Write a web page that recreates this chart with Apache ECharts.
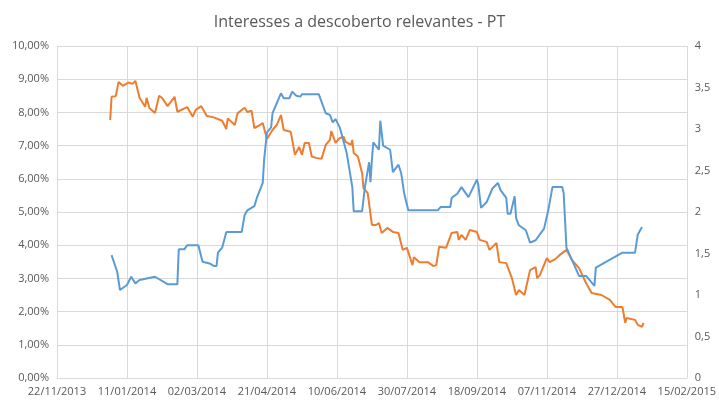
<!DOCTYPE html>
<html><head><meta charset="utf-8">
<script src="https://cdn.jsdelivr.net/npm/echarts@6/dist/echarts.min.js"></script>
<style>html,body{margin:0;padding:0;background:#fff}#c{width:719px;height:405px}</style>
</head><body><div id="c"></div>
<script>
const title = 'Interesses a descoberto relevantes - PT';
const xTickStart = '2013-11-22', xTickEnd = '2015-02-15', xTickDays = 50;
const orangeDates = ['2013-12-30','2013-12-31','2014-01-03','2014-01-05','2014-01-08','2014-01-12','2014-01-15','2014-01-17','2014-01-20','2014-01-24','2014-01-25','2014-01-27','2014-01-31','2014-02-03','2014-02-05','2014-02-09','2014-02-14','2014-02-16','2014-02-23','2014-02-27','2014-03-01','2014-03-05','2014-03-09','2014-03-14','2014-03-20','2014-03-23','2014-03-24','2014-03-29','2014-03-31','2014-04-05','2014-04-07','2014-04-10','2014-04-12','2014-04-16','2014-04-18','2014-04-21','2014-04-25','2014-04-28','2014-05-01','2014-05-03','2014-05-08','2014-05-11','2014-05-14','2014-05-16','2014-05-18','2014-05-21','2014-05-23','2014-05-26','2014-05-27','2014-05-30','2014-06-02','2014-06-05','2014-06-06','2014-06-09','2014-06-12','2014-06-15','2014-06-16','2014-06-20','2014-06-21','2014-06-22','2014-06-25','2014-06-28','2014-06-29','2014-07-02','2014-07-05','2014-07-08','2014-07-10','2014-07-12','2014-07-16','2014-07-20','2014-07-24','2014-07-27','2014-07-30','2014-08-03','2014-08-04','2014-08-08','2014-08-14','2014-08-18','2014-08-20','2014-08-22','2014-08-27','2014-08-31','2014-09-04','2014-09-05','2014-09-07','2014-09-10','2014-09-13','2014-09-18','2014-09-20','2014-09-25','2014-09-27','2014-10-02','2014-10-04','2014-10-09','2014-10-13','2014-10-16','2014-10-18','2014-10-22','2014-10-26','2014-10-30','2014-10-31','2014-11-02','2014-11-07','2014-11-09','2014-11-13','2014-11-16','2014-11-21','2014-11-25','2014-11-30','2014-12-05','2014-12-09','2014-12-16','2014-12-22','2014-12-26','2014-12-31','2015-01-02','2015-01-03','2015-01-09','2015-01-11','2015-01-14','2015-01-15'];
const orangeValues = [7.77,8.47,8.49,8.92,8.8,8.9,8.86,8.95,8.44,8.17,8.44,8.13,7.98,8.5,8.44,8.19,8.47,8.02,8.16,7.87,8.07,8.19,7.89,7.85,7.75,7.5,7.82,7.62,7.97,8.14,8.01,8.05,7.53,7.62,7.68,7.2,7.47,7.62,7.92,7.47,7.42,6.72,6.96,6.72,7.08,7.08,6.67,6.63,6.69,6.6,7.02,7.17,7.44,7.08,7.23,7.26,7.12,7.02,7.17,6.78,6.67,6.17,5.72,5.57,4.61,4.61,4.67,4.37,4.52,4.4,4.37,3.86,3.92,3.4,3.64,3.49,3.49,3.37,3.4,3.95,3.92,4.37,4.4,4.16,4.31,4.16,4.46,4.4,4.16,4.1,3.86,4.07,3.49,3.46,3.01,2.5,2.65,2.5,3.25,3.34,3.01,3.1,3.61,3.49,3.58,3.7,3.86,3.55,3.31,2.86,2.56,2.5,2.35,2.14,2.14,1.66,1.81,1.75,1.6,1.54,1.66];
const blueDates = ['2013-12-31','2014-01-04','2014-01-06','2014-01-11','2014-01-14','2014-01-17','2014-01-20','2014-01-31','2014-02-09','2014-02-16','2014-02-17','2014-02-21','2014-02-23','2014-03-03','2014-03-06','2014-03-11','2014-03-14','2014-03-16','2014-03-17','2014-03-20','2014-03-23','2014-04-03','2014-04-05','2014-04-07','2014-04-12','2014-04-14','2014-04-18','2014-04-19','2014-04-20','2014-04-21','2014-04-24','2014-04-25','2014-05-01','2014-05-03','2014-05-07','2014-05-09','2014-05-12','2014-05-15','2014-05-16','2014-05-28','2014-06-02','2014-06-05','2014-06-07','2014-06-09','2014-06-12','2014-06-17','2014-06-21','2014-06-22','2014-06-28','2014-06-30','2014-07-03','2014-07-04','2014-07-05','2014-07-06','2014-07-10','2014-07-11','2014-07-13','2014-07-18','2014-07-20','2014-07-24','2014-07-26','2014-07-28','2014-07-31','2014-08-21','2014-08-23','2014-08-30','2014-08-31','2014-09-04','2014-09-07','2014-09-12','2014-09-18','2014-09-19','2014-09-21','2014-09-25','2014-09-29','2014-10-03','2014-10-05','2014-10-09','2014-10-10','2014-10-12','2014-10-15','2014-10-16','2014-10-18','2014-10-23','2014-10-26','2014-10-30','2014-11-05','2014-11-08','2014-11-11','2014-11-18','2014-11-19','2014-11-21','2014-11-25','2014-11-30','2014-12-05','2014-12-11','2014-12-12','2014-12-31','2015-01-09','2015-01-11','2015-01-14'];
const blueValues = [1.48,1.28,1.06,1.12,1.22,1.14,1.18,1.22,1.13,1.13,1.55,1.55,1.6,1.6,1.4,1.38,1.35,1.35,1.51,1.57,1.76,1.76,1.96,2.02,2.07,2.18,2.35,2.63,2.64,2.96,3.02,3.19,3.43,3.37,3.37,3.45,3.4,3.39,3.42,3.42,3.19,3.17,3.08,3.12,3.02,2.71,2.3,2.01,2.01,2.3,2.6,2.36,2.63,2.84,2.75,3.1,2.8,2.75,2.48,2.57,2.46,2.23,2.02,2.02,2.06,2.06,2.17,2.22,2.3,2.18,2.39,2.33,2.05,2.12,2.28,2.35,2.26,2.17,1.98,1.98,2.19,1.93,1.84,1.78,1.63,1.66,1.8,2.02,2.3,2.3,2.23,1.57,1.42,1.23,1.23,1.11,1.33,1.51,1.51,1.73,1.82];

const DAY = 864e5;
const t = s => Date.parse(s);
const pad = n => (n < 10 ? '0' : '') + n;
const fmtDate = v => { const d = new Date(v); return pad(d.getUTCDate()) + '/' + pad(d.getUTCMonth() + 1) + '/' + d.getUTCFullYear(); };
const txt = '#595959', grid = '#d9d9d9';
const chart = echarts.init(document.getElementById('c'));
chart.setOption({
  animation: false,
  textStyle: { fontFamily: 'Open Sans' },
  title: { text: title, left: 'center', top: 9, textStyle: { fontSize: 16, fontWeight: 'normal', color: txt, fontFamily: 'Open Sans' } },
  grid: { left: 57, right: 32, top: 46, bottom: 27 },
  xAxis: { type: 'value', min: t(xTickStart), max: t(xTickEnd), interval: xTickDays * DAY,
    axisLine: { lineStyle: { color: grid } }, axisTick: { show: false },
    splitLine: { show: true, lineStyle: { color: grid } },
    axisLabel: { color: txt, fontSize: 11, formatter: fmtDate, margin: 8 } },
  yAxis: [
    { type: 'value', min: 0, max: 10, interval: 1, axisLine: { show: false }, axisTick: { show: false },
      splitLine: { lineStyle: { color: grid } },
      axisLabel: { color: txt, fontSize: 11, formatter: v => v.toFixed(2).replace('.', ',') + '%' } },
    { type: 'value', min: 0, max: 4, interval: 0.5, axisLine: { show: false }, axisTick: { show: false },
      splitLine: { show: false },
      axisLabel: { color: txt, fontSize: 11, formatter: v => String(v).replace('.', ',') } }
  ],
  series: [
    { type: 'line', yAxisIndex: 0, symbol: 'none', lineStyle: { color: '#ed7d31', width: 2 },
      data: orangeDates.map((d, i) => [t(d), orangeValues[i]]) },
    { type: 'line', yAxisIndex: 1, symbol: 'none', lineStyle: { color: '#5b9bd5', width: 2 },
      data: blueDates.map((d, i) => [t(d), blueValues[i]]) }
  ]
});
</script></body></html>
